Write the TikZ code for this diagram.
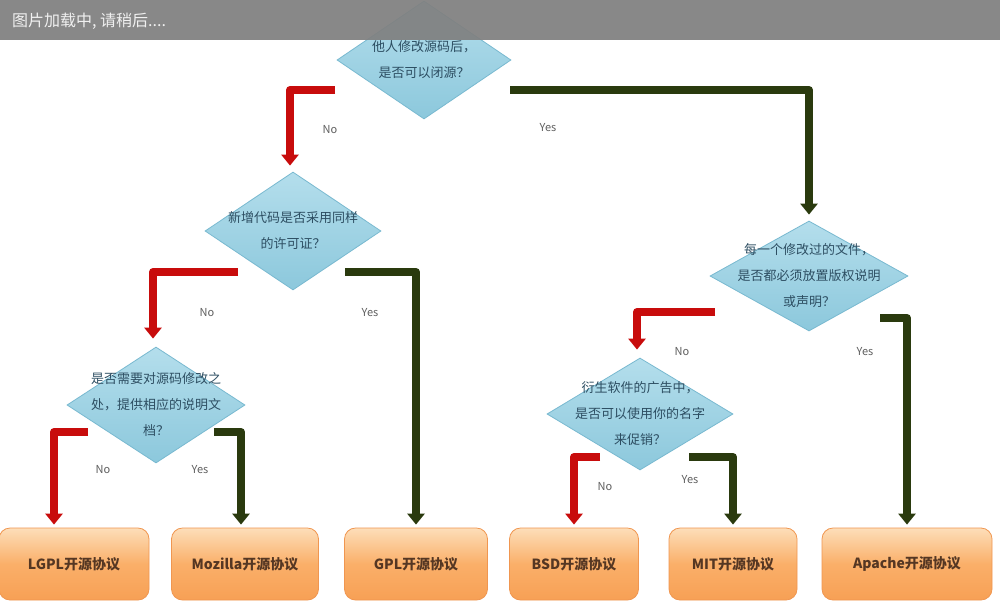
\documentclass[tikz,border=0pt]{standalone}
\usepackage{fontspec}
\newfontfamily\cjk{Noto Sans CJK SC}
\usetikzlibrary{shapes.geometric,arrows.meta}
\definecolor{dia}{RGB}{140,200,220}
\definecolor{diatop}{RGB}{180,222,236}
\definecolor{diaedge}{RGB}{120,185,208}
\definecolor{diatext}{RGB}{45,78,98}
\definecolor{nored}{RGB}{200,12,12}
\definecolor{yesgreen}{RGB}{42,58,14}
\definecolor{leafmid}{RGB}{250,175,105}
\definecolor{leaftop}{RGB}{253,222,185}
\definecolor{leafbot}{RGB}{247,160,85}
\definecolor{leafedge}{RGB}{240,150,80}
\definecolor{leaftext}{RGB}{85,55,35}
\definecolor{labgray}{RGB}{95,95,95}
\definecolor{barfill}{RGB}{128,128,128}
\definecolor{bartext}{RGB}{240,240,240}
\begin{document}
\begin{tikzpicture}[x=1pt,y=-1pt,
  dec/.style={diamond, draw=diaedge, line width=0.8pt, top color=diatop, bottom color=dia, inner sep=0pt},
  dtext/.style={font=\cjk\fontsize{13}{26}\selectfont, text=diatext, align=center},
  leafbox/.style={rectangle, rounded corners=11pt, draw=leafedge, line width=0.8pt,
     top color=leaftop, bottom color=leafbot, middle color=leafmid,
     minimum height=72pt, inner sep=0pt, font=\cjk\bfseries\fontsize{14}{16}\selectfont, text=leaftext},
  noarrow/.style={draw=nored, line width=8pt, line join=round, -{Triangle[width=17pt,length=11pt]}},
  yesarrow/.style={draw=yesgreen, line width=8pt, line join=round, -{Triangle[width=17pt,length=11pt]}},
  lab/.style={font=\cjk\fontsize{11}{12}\selectfont, text=labgray}]
\useasboundingbox (0,0) rectangle (1000,605);
\fill[white] (0,0) rectangle (1000,605);

% decision diamonds
\node[dec, minimum width=174pt, minimum height=118pt,
  label={[dtext]center:他人修改源码后，\\是否可以闭源？}] (root) at (424,60) {};
\node[dec, minimum width=176pt, minimum height=118pt,
  label={[dtext]center:新增代码是否采用同样\\的许可证？}] (d2) at (293,231) {};
\node[dec, minimum width=178pt, minimum height=116pt,
  label={[dtext]center:是否需要对源码修改之\\处，提供相应的说明文\\档？}] (d3) at (156,405) {};
\node[dec, minimum width=198pt, minimum height=110pt,
  label={[dtext]center:每一个修改过的文件，\\是否都必须放置版权说明\\或声明？}] (r1) at (809,276) {};
\node[dec, minimum width=186pt, minimum height=112pt,
  label={[dtext]center:衍生软件的广告中，\\是否可以使用你的名字\\来促销？}] (r2) at (640,414) {};

% leaves
\node[leafbox, minimum width=150pt] (l1) at (74,564) {LGPL开源协议};
\node[leafbox, minimum width=147pt] (l2) at (245,564) {Mozilla开源协议};
\node[leafbox, minimum width=143pt] (l3) at (416,564) {GPL开源协议};
\node[leafbox, minimum width=129pt] (l4) at (574,564) {BSD开源协议};
\node[leafbox, minimum width=128pt] (l5) at (733,564) {MIT开源协议};
\node[leafbox, minimum width=170pt] (l6) at (907,564) {Apache开源协议};

% connectors
\draw[noarrow, shorten >=6pt] ([xshift=-89pt,yshift=-30pt]root.center) -| ([xshift=-3pt]d2.north);
\draw[yesarrow, shorten >=6pt] ([xshift=86pt,yshift=-30pt]root.center) -| (r1.north);
\draw[noarrow, shorten >=8pt] ([xshift=-55pt,yshift=-41pt]d2.center) -| ([xshift=-3pt]d3.north);
\draw[yesarrow, shorten >=3pt] ([xshift=52pt,yshift=-41pt]d2.center) -| (l3.north);
\draw[noarrow, shorten >=3pt] ([xshift=-68pt,yshift=-27pt]d3.center) -| ([xshift=-20pt]l1.north);
\draw[yesarrow, shorten >=3pt] ([xshift=58pt,yshift=-27pt]d3.center) -| ([xshift=-4pt]l2.north);
\draw[noarrow, shorten >=8pt] ([xshift=-94pt,yshift=-36pt]r1.center) -| ([xshift=-3pt]r2.north);
\draw[yesarrow, shorten >=3pt] ([xshift=71pt,yshift=-42pt]r1.center) -| (l6.north);
\draw[noarrow, shorten >=3pt] ([xshift=-40pt,yshift=-43pt]r2.center) -| (l4.north);
\draw[yesarrow, shorten >=3pt] ([xshift=49pt,yshift=-43pt]r2.center) -| (l5.north);

% labels
\node[lab] (lb1) at (330,130) {No};
\node[lab] (lb2) at (548,128) {Yes};
\node[lab] (lb3) at (207,313) {No};
\node[lab] (lb4) at (370,313) {Yes};
\node[lab] (lb5) at (103,470) {No};
\node[lab] (lb6) at (200,470) {Yes};
\node[lab] (lb7) at (682,352) {No};
\node[lab] (lb8) at (865,352) {Yes};
\node[lab] (lb9) at (605,487) {No};
\node[lab] (lb10) at (690,480) {Yes};

% loading bar
\fill[barfill, opacity=0.93] (0,0) rectangle (1000,40);
\node[anchor=west, font=\cjk\fontsize{16}{18}\selectfont, text=bartext, inner sep=0pt] (bar) at (12,21) {图片加载中, 请稍后....};
\end{tikzpicture}
\end{document}
